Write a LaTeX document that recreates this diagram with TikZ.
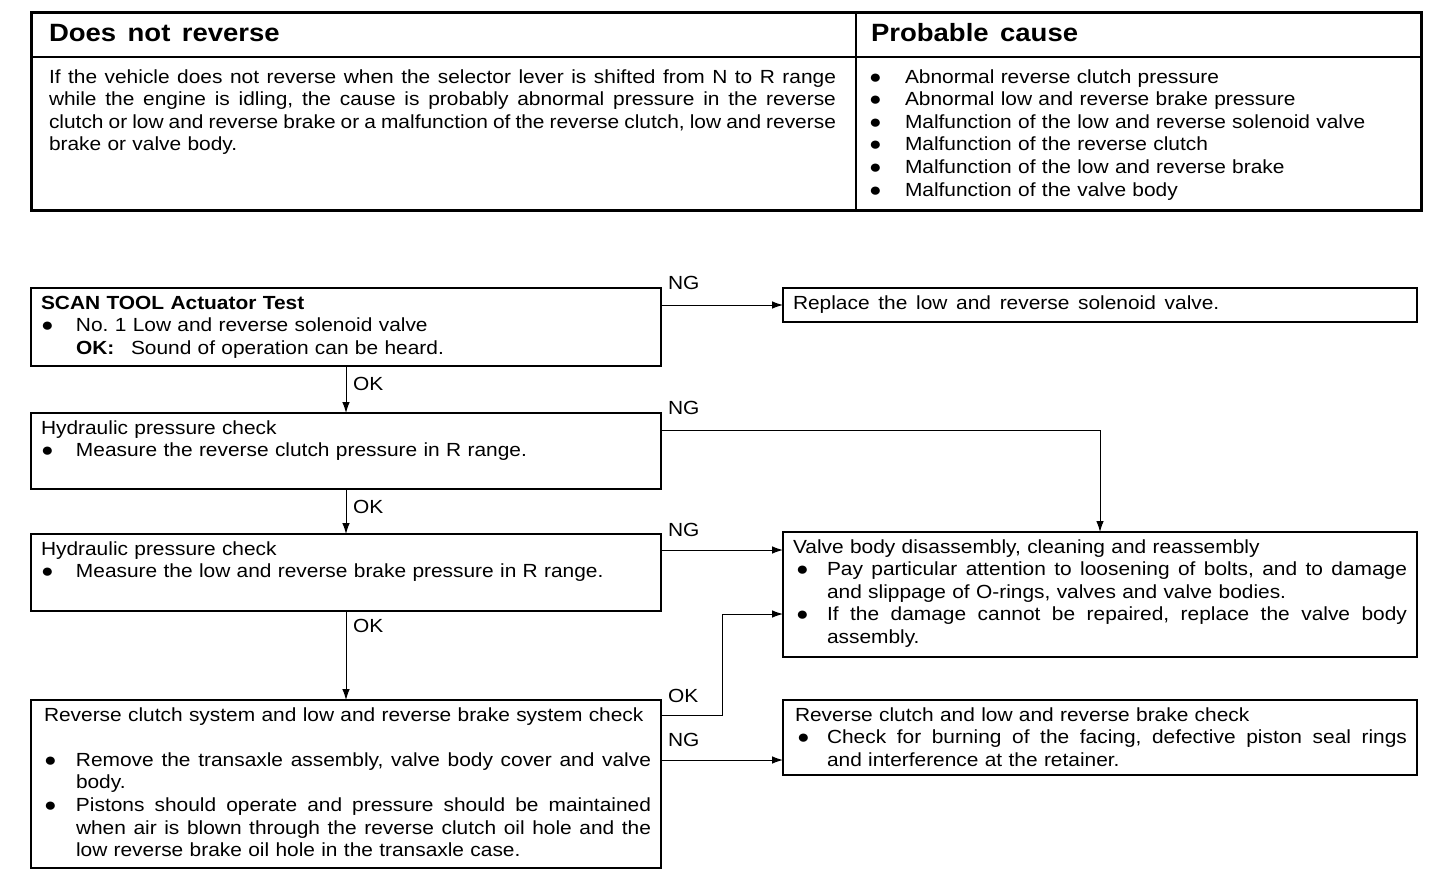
\documentclass[tikz,border=0pt]{standalone}
\usepackage{fontspec}
\setmainfont{Liberation Sans}[FakeStretch=1.1,WordSpace={1.5,1.5,1}]
\usetikzlibrary{arrows.meta}
\newcommand\bul{●}
\newcommand\jline[2]{\leavevmode\hbox to\linewidth{\frenchspacing\spaceskip=0.12em plus 1fil\relax\hspace*{#1}#2}}
\begin{document}
\begin{tikzpicture}[x=0.5pt,y=-0.5pt,
  txt/.style={inner sep=0pt, outer sep=0pt, anchor=base west, font=\fontsize{9.5}{11.3}\selectfont},
  ltext/.style={txt, text width=#1, align=left},
  hd/.style={inner sep=0pt, outer sep=0pt, anchor=base west, font=\fontsize{12.5}{14}\selectfont\bfseries},
  box/.style={draw, line width=0.75pt, inner sep=0pt, outer sep=0pt, anchor=north west},
  conn/.style={line width=0.5pt},
  arr/.style={conn, -{Latex[length=5.5pt,width=3.8pt]}}
]
\useasboundingbox (0,0) rectangle (1456,878);
\fill[white] (0,0) rectangle (1456,878);

% ---- top table ----
\draw[line width=1.5pt] (31,12) rectangle (1421,210);
\draw[line width=0.75pt] (31,57) -- (1421,57);
\draw[line width=0.75pt] (856,12) -- (856,210);
\node[hd] (h1) at (49,41) {Does not reverse};
\node[hd] (h2) at (871,41) {Probable cause};
\node[ltext=393.5pt] (p1) at (49,83) {\jline{0pt}{If the vehicle does not reverse when the selector lever is shifted from N to R range}\\
\jline{0pt}{while the engine is idling, the cause is probably abnormal pressure in the reverse}\\
\jline{0pt}{clutch or low and reverse brake or a malfunction of the reverse clutch, low and reverse}\\
brake or valve body.};
\node[ltext=270pt] (p2) at (869,83) {\makebox[18pt][l]{\bul}Abnormal reverse clutch pressure\\
\makebox[18pt][l]{\bul}Abnormal low and reverse brake pressure\\
\makebox[18pt][l]{\bul}Malfunction of the low and reverse solenoid valve\\
\makebox[18pt][l]{\bul}Malfunction of the reverse clutch\\
\makebox[18pt][l]{\bul}Malfunction of the low and reverse brake\\
\makebox[18pt][l]{\bul}Malfunction of the valve body};

% ---- flowchart boxes ----
\node[box, minimum width=315pt, minimum height=39pt] (b1) at (31,288) {};
\node[box, minimum width=317pt, minimum height=17pt] (r1) at (783,288) {};
\node[box, minimum width=315pt, minimum height=38pt] (b2) at (31,413) {};
\node[box, minimum width=315pt, minimum height=38.5pt] (b3) at (31,534) {};
\node[box, minimum width=315pt, minimum height=84pt] (b4) at (31,700) {};
\node[box, minimum width=317pt, minimum height=62.5pt] (v) at (783,532) {};
\node[box, minimum width=317pt, minimum height=37.5pt] (rc) at (783,700) {};

% ---- box texts ----
\node[ltext=305pt] (t1) at (41,309) {\textbf{SCAN TOOL Actuator Test}\\
\makebox[17.5pt][l]{\bul}No.\ 1 Low and reverse solenoid valve\\
\hspace*{17.5pt}\makebox[27.5pt][l]{\textbf{OK:}}Sound of operation can be heard.};
\node[txt] (t0) at (793,309) {Replace the low and reverse solenoid valve.};
\node[ltext=305pt] (t2) at (41,434) {Hydraulic pressure check\\
\makebox[17.5pt][l]{\bul}Measure the reverse clutch pressure in R range.};
\node[ltext=305pt] (t3) at (41,555) {Hydraulic pressure check\\
\makebox[17.5pt][l]{\bul}Measure the low and reverse brake pressure in R range.};
\node[ltext=303.5pt] (t4) at (44,721) {Reverse clutch system and low and reverse brake system check\\
\mbox{}\\
\jline{0pt}{\makebox[16pt][l]{\bul}Remove the transaxle assembly, valve body cover and valve}\\
\hspace*{16pt}body.\\
\jline{0pt}{\makebox[16pt][l]{\bul}Pistons should operate and pressure should be maintained}\\
\jline{16pt}{when air is blown through the reverse clutch oil hole and the}\\
\hspace*{16pt}low reverse brake oil hole in the transaxle case.};
\node[ltext=307pt] (tv) at (793,553) {Valve body disassembly, cleaning and reassembly\\
\jline{0pt}{\makebox[17pt][l]{\hspace{1.5pt}\bul}Pay particular attention to loosening of bolts, and to damage}\\
\hspace*{17pt}and slippage of O-rings, valves and valve bodies.\\
\jline{0pt}{\makebox[17pt][l]{\hspace{1.5pt}\bul}If the damage cannot be repaired, replace the valve body}\\
\hspace*{17pt}assembly.};
\node[ltext=306pt] (tr) at (795,721) {Reverse clutch and low and reverse brake check\\
\jline{0pt}{\makebox[16pt][l]{\hspace{1pt}\bul}Check for burning of the facing, defective piston seal rings}\\
\hspace*{16pt}and interference at the retainer.};

% ---- labels ----
\node[txt] (ng1) at (668,289) {NG};
\node[txt] (ok1) at (353,390) {OK};
\node[txt] (ng2) at (668,414) {NG};
\node[txt] (ok2) at (353,513) {OK};
\node[txt] (ng3) at (668,536) {NG};
\node[txt] (ok3) at (353,632) {OK};
\node[txt] (ok4) at (668,702) {OK};
\node[txt] (ng4) at (668,746) {NG};

% ---- connectors ----
\draw[arr] (r1.west -| b1.east) -- (r1.west);
\draw[arr] (b1.south) -- (b2.north);
\draw[arr] (b2.south) -- (b3.north);
\draw[arr] (b3.south) -- (b4.north);
\coordinate (n2) at ([yshift=-8.5pt]b2.north east);
\draw[arr] (n2) -| (v.north);
\coordinate (n3) at ([yshift=-8pt]b3.north east);
\draw[arr] (n3) -- (n3 -| v.west);
\coordinate (o4) at ([yshift=-7.5pt]b4.north east);
\coordinate (v2) at ([yshift=-41pt]v.north west);
\draw[arr] (o4) -- ++(30.5pt,0) |- (v2);
\coordinate (g4) at ([yshift=-30pt]b4.north east);
\draw[arr] (g4) -- (g4 -| rc.west);
\end{tikzpicture}
\end{document}
